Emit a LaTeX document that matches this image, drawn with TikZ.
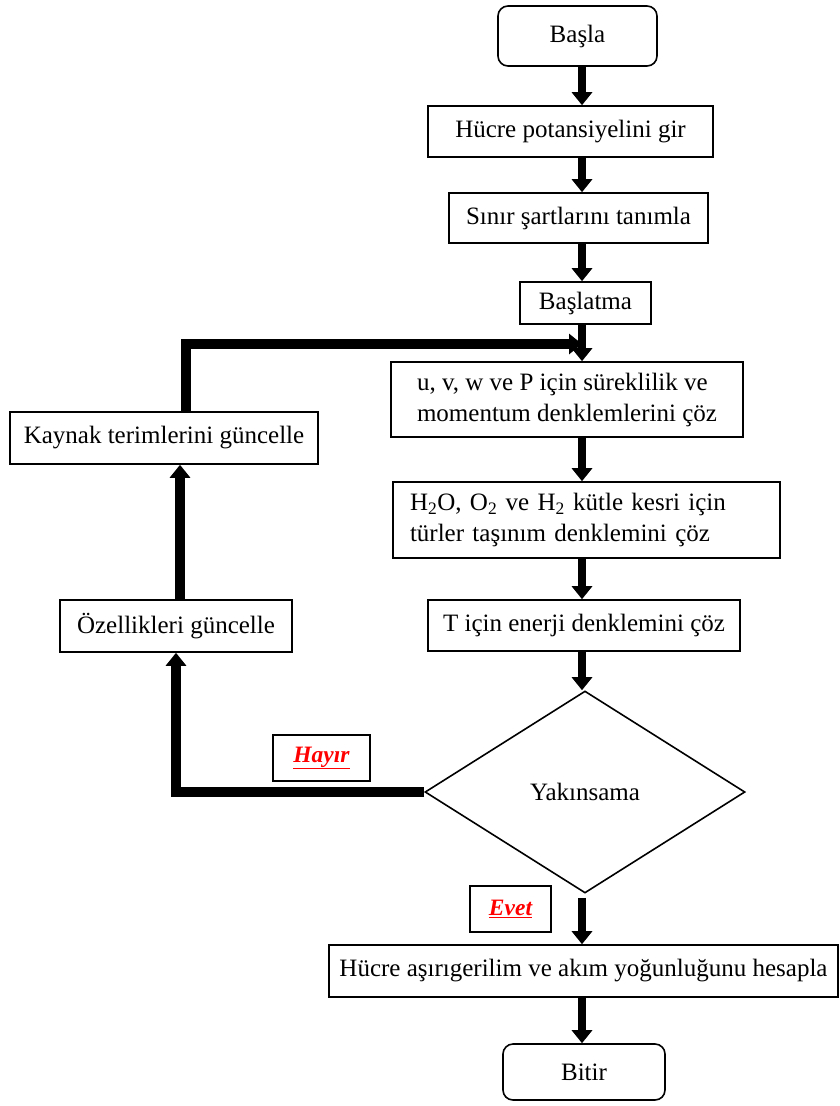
\documentclass[tikz,border=0pt]{standalone}
\usepackage{fontspec}
\setmainfont{Liberation Serif}
\usetikzlibrary{arrows.meta,shapes.geometric}

\begin{document}
\begin{tikzpicture}[x=1pt,y=-1pt,
  kutu/.style={draw,line width=1.6pt,inner sep=0pt,font=\fontsize{25}{31}\selectfont},
  uc/.style={kutu,rounded corners=10pt},
  ok/.style={line width=8pt,-{Triangle[length=13pt,width=20pt]}},
  donus/.style={line width=9.5pt},
  etiket/.style={draw,line width=1.6pt,inner sep=0pt,text=red,font=\fontsize{23.5}{27}\selectfont\bfseries\itshape}]
  \useasboundingbox (0,0) rectangle (839,1106);

  % ana kolon
  \node[uc,minimum width=159pt,minimum height=60pt] (bas) at (577.5,36) {Başla};
  \node[kutu,minimum width=285pt,minimum height=51pt] (pot) at (570.5,131.5) {Hücre potansiyelini gir};
  \node[kutu,minimum width=259pt,minimum height=50pt] (sinir) at (578.5,218) {Sınır şartlarını tanımla};
  \node[kutu,minimum width=131pt,minimum height=42pt] (baslat) at (585.5,303) {Başlatma};
  \node[kutu,minimum width=352pt,minimum height=75pt,align=left] (mom) at (567,399.5) {u, v, w ve P için süreklilik ve\\momentum denklemlerini çöz};
  \node[kutu,minimum width=387pt,minimum height=76pt,text width=353pt,align=left] (tur) at (586.5,520) {H\textsubscript{2}O, O\textsubscript{2} ve H\textsubscript{2} kütle kesri için\\türler taşınım denklemini çöz};
  \node[kutu,minimum width=312pt,minimum height=51pt] (enerji) at (584,625.5) {T için enerji denklemini çöz};
  \node[kutu,diamond,minimum width=320pt,minimum height=202pt] (yak) at (585,792) {Yakınsama};
  \node[kutu,minimum width=509pt,minimum height=52pt] (hesap) at (583.5,971) {Hücre aşırıgerilim ve akım yoğunluğunu hesapla};
  \node[uc,minimum width=162pt,minimum height=56pt] (bitir) at (584,1072) {Bitir};

  % sol taraf
  \node[kutu,minimum width=308pt,minimum height=52pt] (kay) at (164,438) {Kaynak terimlerini güncelle};
  \node[kutu,minimum width=232pt,minimum height=52pt] (ozel) at (176,626) {Özellikleri güncelle};

  \node[etiket,minimum width=97pt,minimum height=46pt] (hayir) at (321.5,758) {\underline{Hayır}};
  \node[etiket,minimum width=81pt,minimum height=46pt] (evet) at (510.5,909) {\underline{Evet}};

  \coordinate (sut) at (582,0);
  \coordinate (k1) at (176,792);
  \coordinate (k2) at (180,530);
  \coordinate (k3) at (186,344);

  \draw[ok] (sut |- bas.south) -- (sut |- pot.north);
  \draw[ok] (sut |- pot.south) -- (sut |- sinir.north);
  \draw[ok] (sut |- sinir.south) -- (sut |- baslat.north);
  \draw[ok] (sut |- baslat.south) -- (sut |- mom.north);
  \draw[ok] (sut |- mom.south) -- (sut |- tur.north);
  \draw[ok] (sut |- tur.south) -- (sut |- enerji.north);
  \draw[ok] (sut |- enerji.south) -- (sut |- yak.north);
  \draw[ok,shorten <=4pt] (sut |- yak.south) -- (sut |- hesap.north);
  \draw[ok] (sut |- hesap.south) -- (sut |- bitir.north);

  % geri besleme dongusu
  \draw[donus,-{Triangle[length=13pt,width=20pt]}] (yak.west) -- (k1) -- (k1 |- ozel.south);
  \draw[donus,-{Triangle[length=13pt,width=20pt]}] (k2 |- ozel.north) -- (k2 |- kay.south);
  \draw[donus,-{Triangle[length=13pt,width=20pt]}] (k3 |- kay.north) -- (k3) -- (k3 -| sut);
\end{tikzpicture}
\end{document}
